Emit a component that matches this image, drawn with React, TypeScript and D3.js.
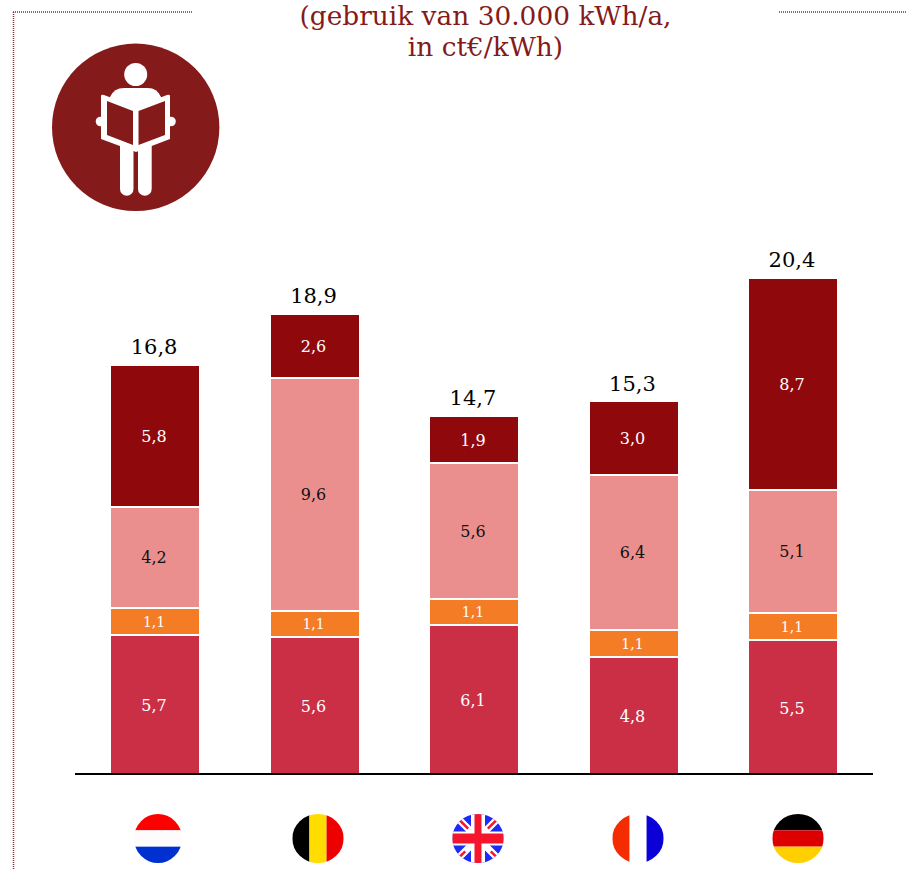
import React from 'react';
import * as d3 from 'd3';

const countries = ['NL', 'BE', 'UK', 'FR', 'DE'];
const keys = ['belasting', 'heffing', 'net', 'energie'];
const belasting = [5.7, 5.6, 6.1, 4.8, 5.5];
const heffing = [1.1, 1.1, 1.1, 1.1, 1.1];
const net = [4.2, 9.6, 5.6, 6.4, 5.1];
const energie = [5.8, 2.6, 1.9, 3.0, 8.7];
const totals = [16.8, 18.9, 14.7, 15.3, 20.4];
const titleLines = ['(gebruik van 30.000 kWh/a,', 'in ct€/kWh)'];

const colors = { belasting: '#cb2f46', heffing: '#f47c25', net: '#ea8f8e', energie: '#8f080c' };
const labelColors = { belasting: '#fff', heffing: '#fff', net: '#111', energie: '#fff' };
const labelSizes = { belasting: 16, heffing: 14, net: 16, energie: 16 };

const FONT = '"DejaVu Serif", Georgia, serif';
const BRAND = '#841a1a';

const rows = countries.map((c, i) => ({
  country: c,
  belasting: belasting[i],
  heffing: heffing[i],
  net: net[i],
  energie: energie[i],
}));

const comma = (v: number) => v.toFixed(1).replace('.', ',');

const x = d3.scaleBand<string>().domain(countries).range([75.3, 872.7]).paddingInner(0.4486).paddingOuter(0.2243);
const y = d3.scaleLinear().domain([0, 20.4]).range([773, 279]);
const flagX = d3.scalePoint<string>().domain(countries).range([158, 798]);
const series = d3.stack<any>().keys(keys)(rows);

const Flag = ({ country, id }: { country: string; id: string }) => {
  const cx = flagX(country)!;
  const rx = country === 'NL' ? 24 : 25.7;
  const cy = 838.5;
  const ry = 24.5;
  const l = cx - rx;
  const w = rx * 2;
  const t = cy - ry;
  const h = ry * 2;
  let body: React.ReactNode = null;
  if (country === 'NL') {
    body = (
      <>
        <rect x={l} y={t} width={w} height={h / 3} fill="#fe0000" />
        <rect x={l} y={t + h / 3} width={w} height={h / 3} fill="#fdfbfc" />
        <rect x={l} y={t + (2 * h) / 3} width={w} height={h / 3} fill="#0030cf" />
      </>
    );
  } else if (country === 'BE') {
    body = (
      <>
        <rect x={l} y={t} width={w / 3} height={h} fill="#000" />
        <rect x={l + w / 3} y={t} width={w / 3} height={h} fill="#ffdd00" />
        <rect x={l + (2 * w) / 3} y={t} width={w / 3} height={h} fill="#ef0000" />
      </>
    );
  } else if (country === 'FR') {
    body = (
      <>
        <rect x={l} y={t} width={w / 3} height={h} fill="#f42c00" />
        <rect x={l + (2 * w) / 3} y={t} width={w / 3} height={h} fill="#0c00d8" />
      </>
    );
  } else if (country === 'DE') {
    body = (
      <>
        <rect x={l} y={t} width={w} height={h / 3} fill="#000" />
        <rect x={l} y={t + h / 3} width={w} height={h / 3} fill="#de0000" />
        <rect x={l} y={t + (2 * h) / 3} width={w} height={h / 3} fill="#ffcf00" />
      </>
    );
  } else {
    // union jack
    const d = `M${cx - 24},${cy - 24}L${cx + 24},${cy + 24}M${cx + 24},${cy - 24}L${cx - 24},${cy + 24}`;
    body = (
      <>
        <rect x={l} y={t} width={w} height={h} fill="#1c2bf5" />
        <path d={d} stroke="#fff" strokeWidth={7} />
        <path d={d} stroke="#f5162e" strokeWidth={2.5} strokeDasharray="0 6 14 9 14 9 14 9 14" />
        <rect x={l} y={cy - 7} width={w} height={14} fill="#fff" />
        <rect x={cx - 7} y={t} width={14} height={h} fill="#fff" />
        <rect x={l} y={cy - 5} width={w} height={10} fill="#f5162e" />
        <rect x={cx - 3.5} y={t} width={7} height={h} fill="#f5162e" />
      </>
    );
  }
  return (
    <g>
      <clipPath id={id}>
        <ellipse cx={cx} cy={cy} rx={rx} ry={ry} />
      </clipPath>
      <g clipPath={`url(#${id})`}>{body}</g>
    </g>
  );
};

const Reader = () => (
  <g>
    <circle cx={135.7} cy={127.3} r={83.7} fill={BRAND} />
    <g fill="#fff">
      <ellipse cx={135.7} cy={74.5} rx={11.5} ry={11.5} />
      <path d="M110,97Q114,88 124,88H148Q157,88 161,97L161,100L135.5,110L110,100Z" />
      <circle cx={100.5} cy={121.5} r={4.8} />
      <circle cx={171} cy={121.5} r={4.8} />
      <path d="M120,145H133.5V189A6.7,6.7 0 0 1 120,189Z" />
      <path d="M138,145H151.7V189A6.85,6.85 0 0 1 138,189Z" />
      <path
        fillRule="evenodd"
        d="M101,96Q101,94 104,95L135.5,107L167,95Q170,94 170,96V139L136,152L101,139Z
           M107,101V135L133,145V111Z
           M138.5,111V145L165,135V101Z"
      />
    </g>
  </g>
);

export default function App() {
  return (
    <svg
      width={906}
      height={869}
      style={{ position: 'absolute', left: 0, top: 0, display: 'block' }}
      fontFamily={FONT}
    >
      <rect width={906} height={869} fill="#fff" />

      <g stroke="#8a2a30" strokeWidth={1.5} strokeDasharray="1 1" fill="none">
        <path d="M13,12H193" />
        <path d="M13.5,12V869" />
        <path d="M779,12H906" />
      </g>

      <g fill={BRAND} fontSize={26.4} textAnchor="middle">
        {titleLines.map((line, i) => (
          <text key={line} x={485.5} y={25 + i * 31}>
            {line}
          </text>
        ))}
      </g>

      <Reader />

      {series.map((s) => (
        <g key={s.key}>
          {s.map((d) => {
            const c = d.data.country;
            const top = Math.round(y(d[1]));
            const bottom = Math.round(y(d[0]));
            const mid = (top + bottom) / 2;
            const left = Math.round(x(c)!);
            const cx = x(c)! + x.bandwidth() / 2;
            return (
              <g key={c}>
                <rect x={left} y={top} width={88} height={bottom - top} fill={colors[s.key]} />
                {d[0] !== 0 && <line x1={left} x2={left + 88} y1={bottom} y2={bottom} stroke="#fff" strokeWidth={2} />}
                <text
                  x={cx - 1}
                  y={mid + (s.key === 'belasting' ? 1.5 : 0)}
                  dy="0.36em"
                  textAnchor="middle"
                  fontSize={labelSizes[s.key]}
                  fill={labelColors[s.key]}
                >
                  {comma(d[1] - d[0])}
                </text>
              </g>
            );
          })}
        </g>
      ))}

      {countries.map((c, i) => (
        <text
          key={c}
          x={x(c)! + x.bandwidth() / 2 - 1}
          y={y(totals[i]) - 12}
          textAnchor="middle"
          fontSize={21}
          fill="#000"
        >
          {comma(totals[i])}
        </text>
      ))}

      <line x1={75} x2={873} y1={774} y2={774} stroke="#000" strokeWidth={2} />

      {countries.map((c) => (
        <Flag key={c} country={c} id={`flag-${c}`} />
      ))}
    </svg>
  );
}
